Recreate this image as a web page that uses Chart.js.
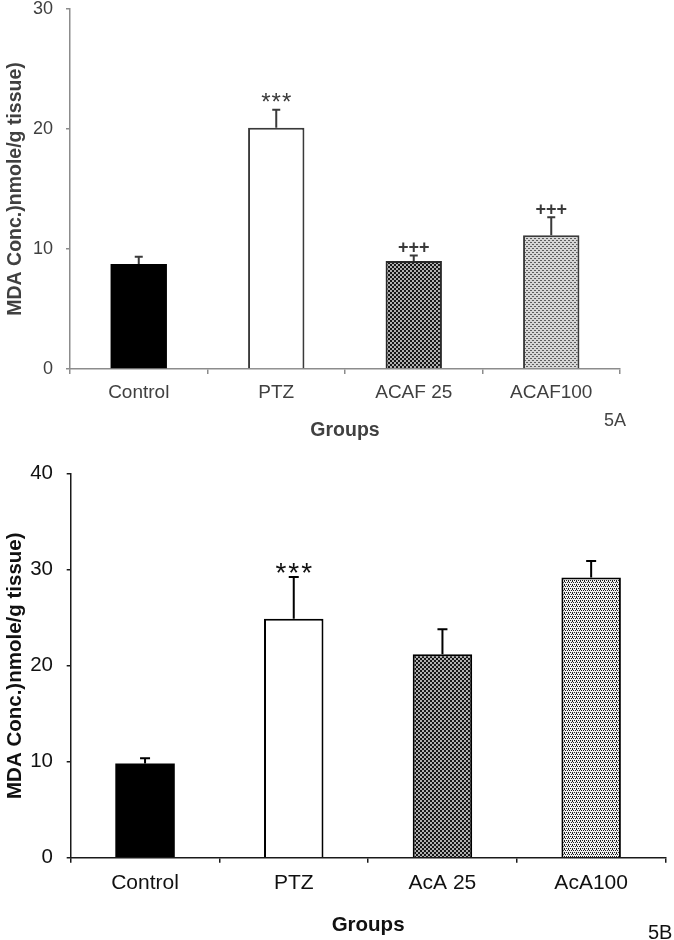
<!DOCTYPE html>
<html>
<head>
<meta charset="utf-8">
<script src="https://cdn.jsdelivr.net/npm/chart.js@4.4.1/dist/chart.umd.min.js"></script>
<style>
  html, body { margin: 0; padding: 0; background: #fff; }
  #wrap { position: relative; width: 674px; height: 940px; overflow: hidden; }
  .box { position: absolute; left: 0; }
  .tag { position: absolute; font-family: "Liberation Sans", Arial, sans-serif; }
</style>
</head>
<body>
<div id="wrap">
  <div class="box" style="top:0"><canvas id="c1" width="674" height="460"></canvas></div>
  <div class="box" style="top:460px"><canvas id="c2" width="674" height="480"></canvas></div>
  <div class="tag" style="left:604px; top:410px; font-size:18px; color:#444;">5A</div>
  <div class="tag" style="left:648px; top:921px; font-size:20px; color:#111;">5B</div>
</div>
<script>
// ---------- data ----------
const topCategories = ['Control', 'PTZ', 'ACAF 25', 'ACAF100'];
const topMeans = [8.75, 20.1, 9.0, 11.15];
const topErrors = [0.6, 1.5, 0.45, 1.5];
const topMarks = ['', '***', '+++', '+++'];
const topYMax = 30;
const topYStep = 10;

const bottomCategories = ['Control', 'PTZ', 'AcA 25', 'AcA100'];
const bottomMeans = [9.8, 24.9, 21.2, 29.2];
const bottomErrors = [0.55, 4.35, 2.6, 1.7];
const bottomMarks = ['', '***', '', ''];
const bottomYMax = 40;
const bottomYStep = 10;

const yTitle = 'MDA Conc.)nmole/g tissue)';
const xTitle = 'Groups';

// ---------- patterns ----------
const FONT = '"Liberation Sans", Arial, sans-serif';
function makePattern(w, h, bg, fg, pts, r) {
  const c = document.createElement('canvas');
  c.width = w; c.height = h;
  const g = c.getContext('2d');
  g.fillStyle = bg; g.fillRect(0, 0, w, h);
  g.fillStyle = fg;
  pts.forEach(p => {
    if (r) { g.beginPath(); g.arc(p[0], p[1], r, 0, Math.PI * 2); g.fill(); }
    else g.fillRect(p[0], p[1], 1, 1);
  });
  return g.createPattern(c, 'repeat');
}
const darkDots = makePattern(4, 4, '#161616', '#f4f4f4', [[1, 1], [3, 3]], 0.95);
const lightWave = makePattern(4, 4, '#d6d6d6', '#5e5e5e', [[0, 0], [1, 0], [2, 2], [3, 2]]);
const fineDots = makePattern(4, 4, '#f0f0f0', '#1e1e1e', [[0, 0], [2, 0], [1, 2], [3, 2], [0, 1]]);

// ---------- error bar + marks plugin ----------
const errPlugin = {
  id: 'errbars',
  afterDatasetsDraw(chart, args, o) {
    const meta = chart.getDatasetMeta(0);
    const ys = chart.scales.y;
    const ctx = chart.ctx;
    const data = chart.data.datasets[0].data;
    ctx.save();
    meta.data.forEach((bar, i) => {
      const v = data[i];
      const yBar = ys.getPixelForValue(v);
      const yTop = ys.getPixelForValue(v + o.errors[i]);
      ctx.strokeStyle = o.color;
      ctx.lineWidth = o.lineWidth;
      ctx.beginPath();
      ctx.moveTo(bar.x, yBar);
      ctx.lineTo(bar.x, yTop);
      ctx.moveTo(bar.x - o.cap / 2, yTop);
      ctx.lineTo(bar.x + o.cap / 2, yTop);
      ctx.stroke();
      const m = o.marks[i];
      if (m) {
        const star = m.indexOf('*') >= 0;
        const fs = star ? o.starSize : o.plusSize;
        ctx.font = (star ? '' : 'bold ') + fs + 'px ' + FONT;
        ctx.fillStyle = o.markColor;
        ctx.textAlign = 'center';
        ctx.textBaseline = 'alphabetic';
        if ('letterSpacing' in ctx) ctx.letterSpacing = star ? o.starSpacing + 'px' : '0px';
        const center = yTop - (star ? o.starGap : o.plusGap);
        const base = center + (star ? 0.58 : 0.35) * fs;
        ctx.fillText(m, bar.x + (star ? o.starSpacing / 2 : 0), base);
      }
    });
    ctx.restore();
  }
};

function build(id, cats, means, errors, marks, ymax, ystep, s) {
  return new Chart(document.getElementById(id), {
    type: 'bar',
    data: {
      labels: cats,
      datasets: [{
        data: means,
        backgroundColor: s.fills,
        borderColor: s.borders,
        borderWidth: s.borderWidths,
        borderSkipped: 'bottom',
        barPercentage: s.barPct,
        categoryPercentage: 1.0
      }]
    },
    options: {
      responsive: false,
      animation: false,
      events: [],
      layout: { padding: s.padding },
      plugins: {
        legend: { display: false },
        tooltip: { enabled: false },
        errbars: {
          errors: errors, marks: marks, color: s.errColor, lineWidth: s.errWidth, cap: s.cap,
          markColor: s.markColor, starSize: s.starSize, starSpacing: s.starSpacing, starGap: s.starGap,
          plusSize: 18, plusGap: s.plusGap
        }
      },
      scales: {
        x: {
          grid: { drawOnChartArea: false, drawTicks: true, tickLength: 5, color: s.axisColor, lineWidth: s.axisWidth, offset: true },
          border: { color: s.axisColor, width: s.axisWidth },
          ticks: { color: s.textColor, font: { family: FONT, size: s.xFont, lineHeight: 1 }, padding: s.xPad, maxRotation: 0, autoSkip: false },
          title: { display: true, text: xTitle, color: s.textColor, font: { family: FONT, size: s.titleFont, weight: 'bold', lineHeight: 1 }, padding: { top: 0, bottom: s.xTitlePad } },
          afterFit(sc) { sc.height = s.xHeight; sc.paddingLeft = 0; sc.paddingRight = 0; }
        },
        y: {
          min: 0, max: ymax,
          grid: { drawOnChartArea: false, drawTicks: true, tickLength: 4, color: s.axisColor, lineWidth: s.axisWidth },
          border: { color: s.axisColor, width: s.axisWidth },
          ticks: { stepSize: ystep, color: s.textColor, font: { family: FONT, size: s.yFont, lineHeight: 1 }, padding: s.yPad },
          title: { display: true, text: yTitle, color: s.textColor, font: { family: FONT, size: s.titleFont, weight: 'bold', lineHeight: 1 }, padding: { top: s.yTitlePad, bottom: 0 } },
          afterFit(sc) { sc.width = s.yWidth; sc.paddingTop = 0; sc.paddingBottom = 0; }
        }
      }
    },
    plugins: [errPlugin]
  });
}

build('c1', topCategories, topMeans, topErrors, topMarks, topYMax, topYStep, {
  fills: ['#000000', '#ffffff', darkDots, lightWave],
  borders: ['#000000', '#3a3a3a', '#2a2a2a', '#3a3a3a'],
  borderWidths: [0, 2, 2, 2],
  barPct: 0.41,
  padding: { left: 0, right: 54, top: 9, bottom: 0 },
  errColor: '#3a3a3a', errWidth: 2, cap: 8,
  markColor: '#3a3a3a', starSize: 24, starSpacing: 1, starGap: 14, plusGap: 8.5,
  axisColor: '#8c8c8c', axisWidth: 1.5,
  textColor: '#404040',
  xFont: 19, xPad: 9.5, xHeight: 91, xTitlePad: 20,
  yFont: 18, yPad: 13, yWidth: 70, yTitlePad: 6,
  titleFont: 19.5
});

build('c2', bottomCategories, bottomMeans, bottomErrors, bottomMarks, bottomYMax, bottomYStep, {
  fills: ['#000000', '#ffffff', darkDots, fineDots],
  borders: ['#000000', '#000000', '#000000', '#000000'],
  borderWidths: [0, 2, 2, 2],
  barPct: 0.40,
  padding: { left: 0, right: 8.5, top: 13.7, bottom: 0 },
  errColor: '#000000', errWidth: 2, cap: 10,
  markColor: '#111111', starSize: 28, starSpacing: 2, starGap: 10.7, plusGap: 9,
  axisColor: '#1a1a1a', axisWidth: 1.5,
  textColor: '#111111',
  xFont: 21, xPad: 10.5, xHeight: 82.3, xTitlePad: 4.5,
  yFont: 20.5, yPad: 13.7, yWidth: 70.7, yTitlePad: 4.7,
  titleFont: 20.5
});
</script>
</body>
</html>
